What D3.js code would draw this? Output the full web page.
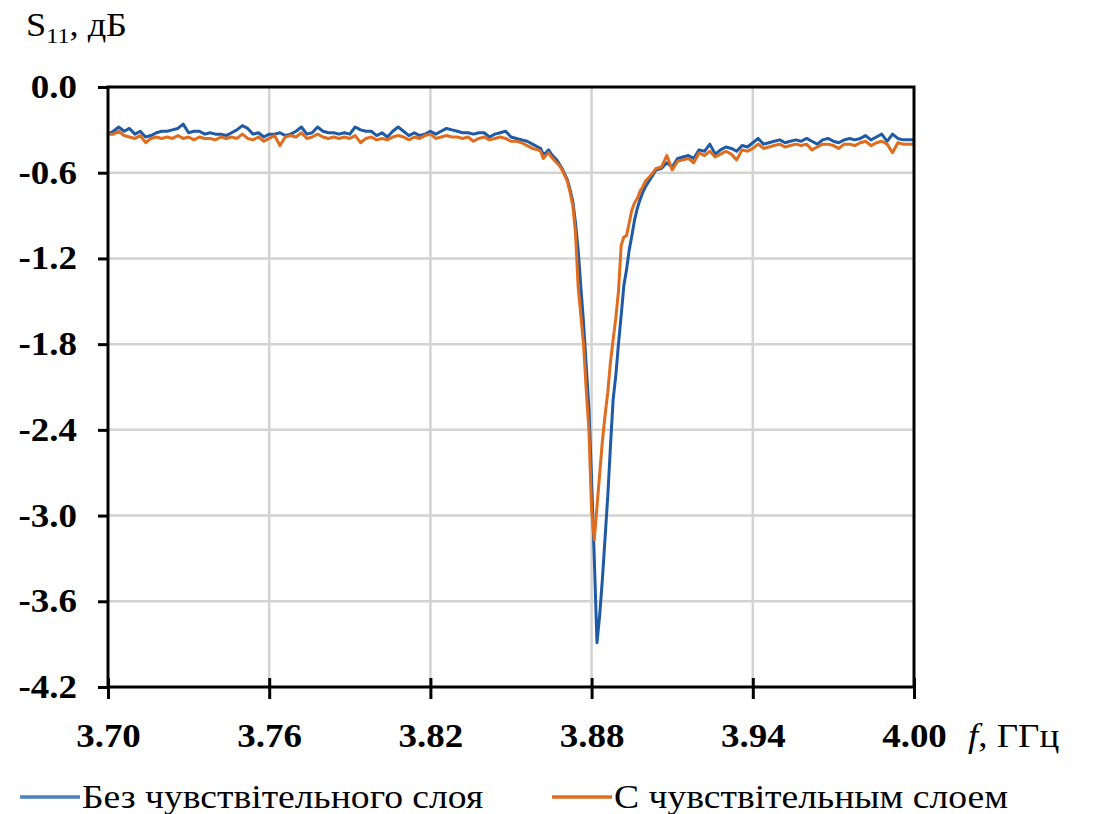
<!DOCTYPE html>
<html>
<head>
<meta charset="utf-8">
<script src="https://cdn.jsdelivr.net/npm/d3@7"></script>
<style>
  body { margin: 0; background: #fff; }
  svg text { font-family: "Liberation Serif", "Times New Roman", serif; }
</style>
</head>
<body>
<svg id="chart" width="1094" height="814"></svg>
<script>
// frequency sweep, GHz
var freq = [
  3.700,3.702,3.704,3.706,3.708,3.710,3.712,3.714,3.716,3.718,
  3.720,3.722,3.724,3.726,3.728,3.730,3.732,3.734,3.736,3.738,
  3.740,3.742,3.744,3.746,3.748,3.750,3.752,3.754,3.756,3.758,
  3.760,3.762,3.764,3.766,3.768,3.770,3.772,3.774,3.776,3.778,
  3.780,3.782,3.784,3.786,3.788,3.790,3.792,3.794,3.796,3.798,
  3.800,3.802,3.804,3.806,3.808,3.810,3.812,3.814,3.816,3.818,
  3.820,3.822,3.824,3.826,3.828,3.830,3.832,3.834,3.836,3.838,
  3.840,3.842,3.844,3.846,3.848,3.850,3.852,3.854,3.856,3.858,
  3.860,3.861,3.862,3.863,3.864,3.865,3.866,3.867,3.868,3.869,
  3.870,3.871,3.872,3.873,3.874,3.875,3.876,3.877,3.878,3.879,
  3.880,3.881,3.882,3.883,3.884,3.885,3.886,3.887,3.888,3.889,
  3.890,3.891,3.892,3.893,3.894,3.895,3.896,3.897,3.898,3.899,
  3.900,3.902,3.904,3.906,3.908,3.910,3.912,3.914,3.916,3.918,
  3.920,3.922,3.924,3.926,3.928,3.930,3.932,3.934,3.936,3.938,
  3.940,3.942,3.944,3.946,3.948,3.950,3.952,3.954,3.956,3.958,
  3.960,3.962,3.964,3.966,3.968,3.970,3.972,3.974,3.976,3.978,
  3.980,3.982,3.984,3.986,3.988,3.990,3.992,3.994,3.996,3.998,
  4.000
];

// S11, dB - without sensitive layer
var s11Bare = [
  -0.33,-0.31,-0.28,-0.31,-0.29,-0.33,-0.31,-0.35,-0.34,-0.32,
  -0.31,-0.31,-0.30,-0.29,-0.26,-0.32,-0.31,-0.31,-0.33,-0.32,
  -0.33,-0.33,-0.34,-0.32,-0.30,-0.27,-0.29,-0.33,-0.32,-0.35,
  -0.33,-0.33,-0.32,-0.34,-0.33,-0.31,-0.28,-0.33,-0.32,-0.28,
  -0.31,-0.32,-0.32,-0.33,-0.32,-0.33,-0.28,-0.30,-0.31,-0.31,
  -0.34,-0.32,-0.35,-0.31,-0.28,-0.31,-0.34,-0.32,-0.34,-0.33,
  -0.31,-0.33,-0.31,-0.29,-0.30,-0.31,-0.32,-0.32,-0.33,-0.32,
  -0.32,-0.35,-0.33,-0.32,-0.31,-0.35,-0.36,-0.37,-0.38,-0.40,
  -0.42,-0.43,-0.47,-0.46,-0.44,-0.47,-0.49,-0.51,-0.54,-0.57,
  -0.61,-0.65,-0.72,-0.80,-0.95,-1.14,-1.40,-1.65,-1.95,-2.25,
  -2.75,-3.30,-3.89,-3.70,-3.45,-3.16,-2.87,-2.52,-2.19,-2.02,
  -1.80,-1.60,-1.39,-1.28,-1.14,-1.04,-0.93,-0.85,-0.79,-0.74,
  -0.70,-0.64,-0.58,-0.57,-0.53,-0.56,-0.50,-0.49,-0.48,-0.50,
  -0.44,-0.45,-0.40,-0.47,-0.44,-0.42,-0.43,-0.45,-0.41,-0.42,
  -0.39,-0.36,-0.40,-0.39,-0.38,-0.37,-0.39,-0.38,-0.37,-0.38,
  -0.36,-0.38,-0.40,-0.37,-0.36,-0.38,-0.39,-0.37,-0.36,-0.37,
  -0.36,-0.34,-0.37,-0.35,-0.33,-0.38,-0.33,-0.36,-0.37,-0.37,
  -0.37
];

// S11, dB - with sensitive layer
var s11Layer = [
  -0.33,-0.33,-0.31,-0.34,-0.35,-0.36,-0.34,-0.39,-0.36,-0.35,
  -0.36,-0.35,-0.36,-0.34,-0.36,-0.35,-0.37,-0.35,-0.36,-0.36,
  -0.37,-0.35,-0.36,-0.35,-0.36,-0.33,-0.36,-0.37,-0.35,-0.38,
  -0.36,-0.34,-0.41,-0.35,-0.34,-0.35,-0.32,-0.36,-0.35,-0.33,
  -0.35,-0.36,-0.35,-0.36,-0.35,-0.36,-0.34,-0.39,-0.36,-0.35,
  -0.37,-0.36,-0.37,-0.35,-0.34,-0.35,-0.37,-0.35,-0.36,-0.34,
  -0.33,-0.36,-0.35,-0.34,-0.35,-0.35,-0.36,-0.35,-0.38,-0.36,
  -0.35,-0.37,-0.36,-0.35,-0.36,-0.38,-0.38,-0.39,-0.41,-0.43,
  -0.44,-0.45,-0.50,-0.48,-0.46,-0.49,-0.51,-0.53,-0.55,-0.58,
  -0.62,-0.66,-0.74,-0.83,-1.02,-1.40,-1.60,-1.80,-2.12,-2.40,
  -2.96,-3.17,-2.94,-2.71,-2.48,-2.30,-2.14,-1.93,-1.77,-1.62,
  -1.43,-1.11,-1.05,-1.04,-0.95,-0.86,-0.81,-0.78,-0.73,-0.70,
  -0.66,-0.62,-0.57,-0.56,-0.48,-0.58,-0.52,-0.51,-0.50,-0.53,
  -0.46,-0.48,-0.45,-0.49,-0.47,-0.45,-0.47,-0.51,-0.44,-0.45,
  -0.43,-0.40,-0.43,-0.42,-0.41,-0.40,-0.42,-0.41,-0.40,-0.41,
  -0.40,-0.44,-0.42,-0.40,-0.40,-0.41,-0.43,-0.40,-0.40,-0.41,
  -0.39,-0.38,-0.41,-0.39,-0.38,-0.40,-0.46,-0.39,-0.40,-0.40,
  -0.40
];

var xTicks = [3.70, 3.76, 3.82, 3.88, 3.94, 4.00];
var yTicks = [0.0, -0.6, -1.2, -1.8, -2.4, -3.0, -3.6, -4.2];
var seriesNames = ["Без чувствітельного слоя", "С чувствітельным слоем"];
var seriesColors = ["#1f5aa6", "#e06c1e"];
var legendColors = ["#4a7fc1", "#e06c1e"];

var svg = d3.select("#chart"),
    margin = {top: 87, right: 180, bottom: 127, left: 108},
    width = svg.attr("width") - margin.left - margin.right,
    height = svg.attr("height") - margin.top - margin.bottom;

var g = svg.append("g")
    .attr("transform", "translate(" + margin.left + "," + margin.top + ")");

var xScale = d3.scaleLinear().domain([3.70, 4.00]).range([0, width]);
var yScale = d3.scaleLinear().domain([-4.2, 0]).range([height, 0]);

// the source figure is a bit wider than plain Times, so stretch text
function stretch(sel, k) {
    sel.each(function() {
        var len = this.getComputedTextLength();
        d3.select(this)
            .attr("textLength", len * k)
            .attr("lengthAdjust", "spacingAndGlyphs");
    });
}

// grid
g.append("g").selectAll("line")
    .data(xTicks.slice(1, -1))
    .enter().append("line")
    .attr("x1", d => xScale(d)).attr("x2", d => xScale(d))
    .attr("y1", 0).attr("y2", height)
    .attr("stroke", "#d3d3d3").attr("stroke-width", 2.5);

g.append("g").selectAll("line")
    .data(yTicks.slice(1, -1))
    .enter().append("line")
    .attr("x1", 0).attr("x2", width)
    .attr("y1", d => yScale(d)).attr("y2", d => yScale(d))
    .attr("stroke", "#d3d3d3").attr("stroke-width", 2.5);

// curves
var data = [s11Bare, s11Layer].map(vals => vals.map((v, i) => ({f: freq[i], s: v})));

var line = d3.line()
    .x(d => xScale(d.f))
    .y(d => yScale(d.s));

g.append("g").selectAll("path")
    .data(data)
    .enter().append("path")
    .attr("d", line)
    .attr("fill", "none")
    .attr("stroke", (d, i) => seriesColors[i])
    .attr("stroke-width", 3)
    .attr("stroke-linejoin", "round");

// frame
g.append("rect")
    .attr("width", width).attr("height", height)
    .attr("fill", "none").attr("stroke", "#000").attr("stroke-width", 3);

// axes
var xAxis = g.append("g")
    .attr("font-family", null)
    .call(d3.axisBottom(xScale).tickValues(xTicks).tickSize(12).tickFormat(d => d.toFixed(2)));
xAxis.attr("transform", "translate(0," + height + ")");
xAxis.select(".domain").remove();
xAxis.selectAll(".tick line").attr("y1", -9).attr("stroke-width", 3);
xAxis.selectAll(".tick text")
    .attr("y", 37)
    .style("font-family", "'Liberation Serif', serif")
    .style("font-size", "33px").style("font-weight", "bold")
    .attr("fill", "#000")
    .call(stretch, 1.12);

var yAxis = g.append("g")
    .call(d3.axisLeft(yScale).tickValues(yTicks).tickSize(10).tickFormat(d => d.toFixed(1)));
yAxis.select(".domain").remove();
yAxis.selectAll(".tick line").attr("stroke-width", 3);
yAxis.selectAll(".tick text")
    .attr("x", -31)
    .style("font-family", "'Liberation Serif', serif")
    .style("font-size", "33px").style("font-weight", "bold")
    .attr("fill", "#000")
    .call(stretch, 1.12);

// axis titles
var yTitle = svg.append("text")
    .attr("x", 26).attr("y", 36)
    .style("font-size", "33px");
yTitle.append("tspan").text("S");
yTitle.append("tspan").style("font-size", "22px").attr("dy", 7).text("11");
yTitle.append("tspan").attr("dy", -7).text(", дБ");
yTitle.call(stretch, 1.1);

var xTitle = svg.append("text")
    .attr("x", 968).attr("y", 747)
    .style("font-size", "33px");
xTitle.append("tspan").style("font-style", "italic").text("f");
xTitle.append("tspan").text(", ГГц");
xTitle.call(stretch, 1.12);

// legend
var legendX = [20, 552];
var legend = svg.append("g").selectAll("g")
    .data(seriesNames)
    .enter().append("g")
    .attr("transform", (d, i) => "translate(" + legendX[i] + ",797)");

legend.append("line")
    .attr("x1", 0).attr("x2", 60)
    .attr("stroke", (d, i) => legendColors[i])
    .attr("stroke-width", 3.5);

legend.append("text")
    .attr("x", 62).attr("y", 11)
    .style("font-size", "33px")
    .text(d => d)
    .call(stretch, 1.14);
</script>
</body>
</html>
